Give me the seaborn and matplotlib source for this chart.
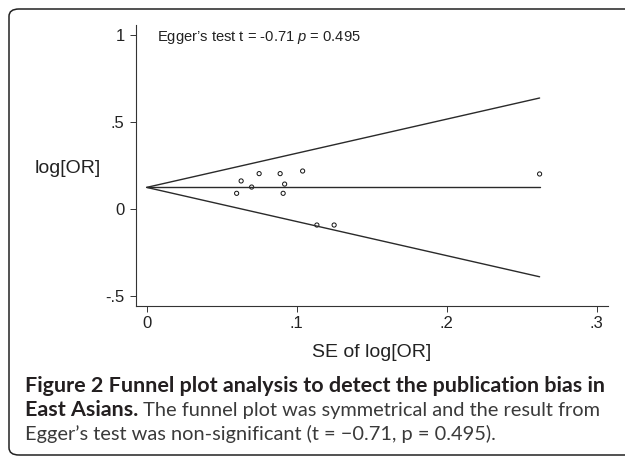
import matplotlib
matplotlib.use("Agg")
import matplotlib.pyplot as plt
from matplotlib.patches import FancyBboxPatch
import seaborn as sns
import pandas as pd

# study estimates
se = [0.060, 0.063, 0.070, 0.075, 0.089, 0.091, 0.092, 0.104, 0.1135, 0.125, 0.262]
log_or = [0.090, 0.161, 0.126, 0.203, 0.203, 0.090, 0.143, 0.218, -0.092, -0.092, 0.201]

# funnel (pooled estimate and 95% limits)
funnel_se = [0.0, 0.262]
funnel_mid = [0.124, 0.124]
funnel_upper = [0.124, 0.637]
funnel_lower = [0.124, -0.389]

xticks = [0, 0.1, 0.2, 0.3]
xticklabels = ["0", ".1", ".2", ".3"]
yticks = [-0.5, 0, 0.5, 1]
yticklabels = ["-.5", "0", ".5", "1"]

df = pd.DataFrame({"se": se, "log_or": log_or})
fl = pd.DataFrame({"se": funnel_se * 3,
                   "y": funnel_mid + funnel_upper + funnel_lower,
                   "part": ["mid"] * 2 + ["upper"] * 2 + ["lower"] * 2})

sns.set_style("ticks")
plt.rcParams["font.family"] = ["Liberation Sans", "DejaVu Sans"]
plt.rcParams["mathtext.fontset"] = "custom"
plt.rcParams["mathtext.rm"] = "Liberation Sans"
plt.rcParams["mathtext.it"] = "Liberation Sans:italic"

W, H = 625, 458
fig = plt.figure(figsize=(W / 100, H / 100), dpi=100)
ax = fig.add_axes([135.7 / W, 1 - 305.7 / H, 472 / W, 280.7 / H])

sns.lineplot(data=fl, x="se", y="y", units="part", estimator=None,
             color="#2a2a2a", linewidth=1.0, ax=ax, legend=False)
sns.scatterplot(data=df, x="se", y="log_or", marker="o", s=9,
                facecolor="none", edgecolor="#111111", linewidth=0.7, ax=ax)

ax.set_xlim(-0.0073, 0.3074)
ax.set_ylim(-0.555, 1.056)
ax.set_xticks(xticks, xticklabels)
ax.set_yticks(yticks, yticklabels)
sns.despine(ax=ax)
for s in ["left", "bottom"]:
    ax.spines[s].set_linewidth(0.8)
    ax.spines[s].set_color("#333333")
ax.tick_params(axis="both", length=4.5, width=0.7, color="#333333",
               labelsize=12, labelcolor="#222222")
ax.tick_params(axis="x", pad=3)
ax.tick_params(axis="y", pad=3.5)

ax.set_xlabel("SE of log[OR]", fontsize=14, color="#222222", va="baseline")
ax.xaxis.set_label_coords(0.5, -0.184)
ax.set_ylabel("log[OR]", fontsize=14, color="#222222", rotation=0,
              ha="left", va="baseline")
ax.yaxis.set_label_coords(-0.2133, 0.4717)

ax.text(0.0069, 0.962, "Egger\u2019s test t = -0.71 $p$ = 0.495",
        fontsize=10.6, color="#222222", va="baseline", ha="left")

# rounded frame around figure + caption
frame = FancyBboxPatch((9 / W, 1 - 455 / H), 700 / W, 446 / H,
                       boxstyle="round,pad=0,rounding_size=0.016",
                       transform=fig.transFigure, fill=False,
                       edgecolor="#222222", linewidth=1.1, clip_on=False)
fig.patches.append(frame)

# caption
cap_font = ["Lato", "DejaVu Sans"]
x0 = 25 / W
fig.canvas.draw()
r = fig.canvas.get_renderer()
t1 = fig.text(x0, 1 - 392 / H,
              "Figure 2 Funnel plot analysis to detect the publication bias in",
              family=cap_font, fontweight="bold", fontsize=11, color="#231f20")
w1 = t1.get_window_extent(r).width
fs = 11 * 578 / w1
t1.set_fontsize(fs)

t2 = fig.text(x0, 1 - 416 / H, "East Asians.", family=cap_font,
              fontweight="bold", fontsize=fs, color="#231f20")
bx = t2.get_window_extent(r).x1
t3 = fig.text(bx / W, 1 - 416 / H,
              " The funnel plot was symmetrical and the result from",
              family=cap_font, fontsize=fs, color="#3a3a3a")
w3 = t3.get_window_extent(r).width
fs2 = fs * (602 - bx) / w3
t3.set_fontsize(fs2)
fig.text(x0, 1 - 440 / H,
         "Egger\u2019s test was non-significant (t = \u22120.71, p = 0.495).",
         family=cap_font, fontsize=fs2, color="#3a3a3a")

fig.savefig("out.png", dpi=100)
